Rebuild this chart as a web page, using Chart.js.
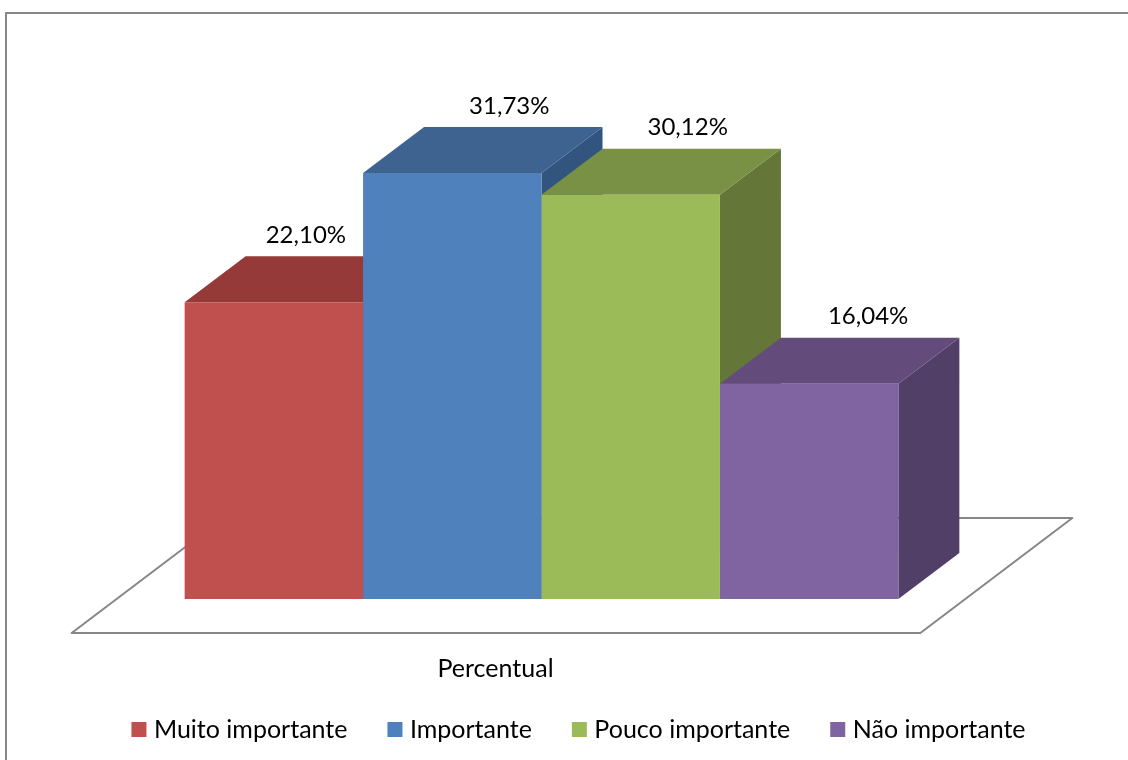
<!DOCTYPE html>
<html>
<head>
<meta charset="utf-8">
<style>
  html, body { margin: 0; background: #fff; }
</style>
</head>
<body>
<canvas id="myChart" width="1128" height="760"></canvas>
<script src="https://cdn.jsdelivr.net/npm/chart.js@4/dist/chart.umd.js"></script>
<script>
const categories = ['Percentual'];
const seriesNames = ['Muito importante', 'Importante', 'Pouco importante', 'Não importante'];
const seriesValues = [22.10, 31.73, 30.12, 16.04];

const frontColors = ['#C0504D', '#4F81BD', '#9BBB59', '#8064A2'];
const topColors = ['#953A38', '#3E6391', '#789145', '#634C7C'];
const sideColors = ['#7F3130', '#32557F', '#647638', '#523F67'];

const depthX = 61;
const depthY = 46;
const labelShift = [32, 57, 57, 59];
const lineGray = '#868686';
const fontName = 'Lato';

const poly = (ctx, pts, fill) => {
  ctx.beginPath();
  pts.forEach(([x, y], i) => (i ? ctx.lineTo(x, y) : ctx.moveTo(x, y)));
  ctx.closePath();
  ctx.fillStyle = fill;
  ctx.fill();
};

const fakeDepth = {
  id: 'fakeDepth',
  afterLayout(chart) {
    // legend is centred on the page, not on the bars
    chart.legend.left += 39.5;
    chart.legend.right += 39.5;
    chart.legend.top -= 59;
    chart.legend.bottom -= 59;
  },
  beforeDraw(chart) {
    const {ctx, width} = chart;
    ctx.save();
    ctx.strokeStyle = lineGray;
    ctx.lineWidth = 2;
    ctx.beginPath();
    ctx.moveTo(6, chart.height);
    ctx.lineTo(6, 13);
    ctx.lineTo(width, 13);
    ctx.stroke();
    ctx.restore();
  },
  beforeDatasetsDraw(chart) {
    const {ctx} = chart;
    const first = chart.getDatasetMeta(0).data[0];
    const last = chart.getDatasetMeta(seriesValues.length - 1).data[0];
    const x0 = first.x - first.width / 2;
    const x1 = last.x + last.width / 2;
    const y0 = chart.scales.y.getPixelForValue(0);

    // floor
    ctx.save();
    ctx.strokeStyle = lineGray;
    ctx.lineWidth = 2;
    ctx.lineJoin = 'round';
    ctx.beginPath();
    ctx.moveTo(x0 - 113, y0 + 34);
    ctx.lineTo(x1 + 22, y0 + 34);
    ctx.lineTo(x1 + 174, y0 - 81);
    ctx.lineTo(x0 + 39, y0 - 81);
    ctx.closePath();
    ctx.stroke();

    // tops and sides of the bars, left to right so they overlap properly
    seriesValues.forEach((v, i) => {
      const bar = chart.getDatasetMeta(i).data[0];
      const l = bar.x - bar.width / 2;
      const r = bar.x + bar.width / 2;
      poly(ctx, [[r, bar.y], [r + depthX, bar.y - depthY], [r + depthX, y0 - depthY], [r, y0]], sideColors[i]);
      poly(ctx, [[l, bar.y], [l + depthX, bar.y - depthY], [r + depthX, bar.y - depthY], [r, bar.y]], topColors[i]);
    });
    ctx.restore();
  },
  afterDatasetsDraw(chart) {
    const {ctx} = chart;
    ctx.save();
    ctx.font = '24px ' + fontName;
    ctx.fillStyle = '#000';
    ctx.textAlign = 'center';
    ctx.textBaseline = 'middle';
    seriesValues.forEach((v, i) => {
      const bar = chart.getDatasetMeta(i).data[0];
      const txt = v.toFixed(2).replace('.', ',') + '%';
      ctx.fillText(txt, bar.x + labelShift[i], bar.y - depthY - 21);
    });
    ctx.restore();
  },
};

new Chart(document.getElementById('myChart').getContext('2d'), {
  type: 'bar',
  data: {
    labels: categories,
    datasets: seriesNames.map((name, i) => ({
      label: name,
      data: [seriesValues[i]],
      backgroundColor: frontColors[i],
    })),
  },
  plugins: [fakeDepth],
  options: {
    responsive: false,
    animation: false,
    barPercentage: 1,
    categoryPercentage: 0.659,
    layout: {
      padding: {top: 62, right: 45, bottom: -51, left: 0},
    },
    scales: {
      x: {
        grid: {display: false},
        border: {display: false},
        ticks: {
          color: '#000',
          font: {family: fontName, size: 25},
          padding: 47,
          labelOffset: -46,
          maxRotation: 0,
        },
      },
      y: {display: false, min: 0, max: 40},
    },
    plugins: {
      tooltip: {enabled: false},
      legend: {
        position: 'bottom',
        labels: {
          color: '#000',
          font: {family: fontName, size: 25},
          usePointStyle: true,
          pointStyle: 'rect',
          boxHeight: 15,
          boxWidth: 5,
          padding: 45,
        },
      },
    },
  },
});
</script>
</body>
</html>
